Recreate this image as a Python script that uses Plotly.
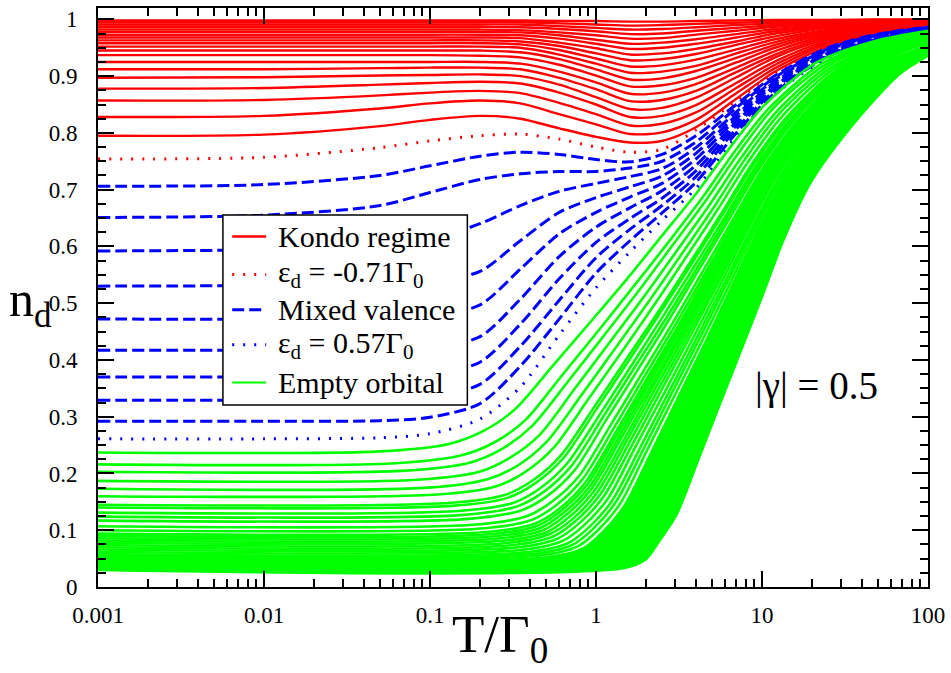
import plotly.graph_objects as go

# ---------------- data ----------------
T_GRID = [0.001, 0.01, 0.05, 0.1, 0.2, 0.35, 0.6, 1, 1.6, 2.5, 4, 7, 12, 25, 50, 100]

# Kondo regime (solid red), bottom -> top
KONDO = [
    [0.795, 0.797, 0.812, 0.823, 0.830, 0.825, 0.808, 0.793, 0.783, 0.786, 0.810, 0.860, 0.908, 0.953, 0.976, 0.987],
    [0.828, 0.830, 0.843, 0.852, 0.857, 0.852, 0.833, 0.815, 0.798, 0.801, 0.823, 0.870, 0.914, 0.957, 0.977, 0.988],
    [0.857, 0.858, 0.866, 0.871, 0.874, 0.870, 0.853, 0.833, 0.813, 0.816, 0.836, 0.879, 0.920, 0.960, 0.979, 0.989],
    [0.878, 0.879, 0.885, 0.888, 0.890, 0.887, 0.871, 0.850, 0.828, 0.830, 0.849, 0.888, 0.926, 0.963, 0.981, 0.990],
    [0.897, 0.898, 0.901, 0.902, 0.903, 0.900, 0.885, 0.863, 0.842, 0.844, 0.862, 0.898, 0.933, 0.966, 0.982, 0.991],
    [0.912, 0.912, 0.914, 0.915, 0.915, 0.912, 0.897, 0.877, 0.856, 0.858, 0.874, 0.907, 0.938, 0.969, 0.984, 0.992],
    [0.925, 0.925, 0.925, 0.925, 0.925, 0.922, 0.908, 0.889, 0.869, 0.871, 0.886, 0.915, 0.944, 0.972, 0.985, 0.992],
    [0.937, 0.937, 0.937, 0.937, 0.936, 0.933, 0.920, 0.901, 0.882, 0.884, 0.897, 0.924, 0.950, 0.975, 0.987, 0.993],
    [0.945, 0.945, 0.945, 0.945, 0.945, 0.942, 0.930, 0.912, 0.894, 0.896, 0.909, 0.932, 0.955, 0.977, 0.988, 0.994],
    [0.952, 0.952, 0.952, 0.952, 0.952, 0.950, 0.938, 0.922, 0.906, 0.908, 0.918, 0.940, 0.960, 0.980, 0.990, 0.995],
    [0.958, 0.958, 0.958, 0.958, 0.958, 0.956, 0.946, 0.931, 0.917, 0.919, 0.929, 0.947, 0.965, 0.982, 0.991, 0.995],
    [0.963, 0.963, 0.963, 0.963, 0.963, 0.961, 0.953, 0.940, 0.928, 0.930, 0.939, 0.955, 0.970, 0.985, 0.992, 0.996],
    [0.968, 0.968, 0.968, 0.968, 0.968, 0.967, 0.959, 0.949, 0.938, 0.940, 0.948, 0.961, 0.975, 0.987, 0.993, 0.997],
    [0.973, 0.973, 0.973, 0.973, 0.973, 0.972, 0.966, 0.957, 0.948, 0.950, 0.957, 0.968, 0.979, 0.989, 0.994, 0.997],
    [0.978, 0.978, 0.978, 0.978, 0.978, 0.977, 0.972, 0.964, 0.957, 0.959, 0.965, 0.974, 0.983, 0.991, 0.996, 0.998],
    [0.982, 0.982, 0.982, 0.982, 0.982, 0.981, 0.977, 0.972, 0.966, 0.967, 0.973, 0.980, 0.987, 0.993, 0.996, 0.998],
    [0.987, 0.987, 0.987, 0.987, 0.987, 0.986, 0.983, 0.979, 0.974, 0.975, 0.980, 0.985, 0.990, 0.995, 0.997, 0.999],
    [0.991, 0.991, 0.991, 0.991, 0.991, 0.991, 0.988, 0.985, 0.982, 0.983, 0.986, 0.990, 0.993, 0.997, 0.998, 0.999],
    [0.995, 0.995, 0.995, 0.995, 0.995, 0.995, 0.993, 0.991, 0.989, 0.990, 0.992, 0.994, 0.996, 0.998, 0.999, 0.999],
    [0.998, 0.998, 0.998, 0.998, 0.998, 0.998, 0.997, 0.997, 0.996, 0.996, 0.997, 0.998, 0.999, 0.999, 1.000, 1.000],
]

# eps_d = -0.71 Gamma_0 (dotted red)
EPS_M071 = [0.754, 0.757, 0.774, 0.786, 0.795, 0.798, 0.789, 0.775, 0.766, 0.771, 0.805, 0.856, 0.905, 0.952, 0.975, 0.987]

# Mixed valence (dashed blue), top -> bottom
MIXED = [
    [0.706, 0.709, 0.725, 0.742, 0.759, 0.766, 0.762, 0.753, 0.749, 0.762, 0.795, 0.850, 0.901, 0.950, 0.974, 0.986],
    [0.651, 0.655, 0.672, 0.695, 0.718, 0.728, 0.732, 0.732, 0.738, 0.750, 0.784, 0.844, 0.898, 0.948, 0.973, 0.986],
    [0.592, 0.594, 0.600, 0.612, 0.640, 0.672, 0.697, 0.711, 0.723, 0.737, 0.774, 0.837, 0.894, 0.946, 0.972, 0.985],
    [0.530, 0.531, 0.533, 0.537, 0.556, 0.610, 0.660, 0.686, 0.705, 0.724, 0.764, 0.831, 0.890, 0.944, 0.971, 0.984],
    [0.472, 0.472, 0.474, 0.477, 0.497, 0.560, 0.622, 0.660, 0.687, 0.711, 0.754, 0.825, 0.886, 0.942, 0.970, 0.984],
    [0.417, 0.417, 0.418, 0.421, 0.441, 0.507, 0.582, 0.634, 0.668, 0.698, 0.743, 0.819, 0.883, 0.941, 0.968, 0.983],
    [0.370, 0.370, 0.371, 0.375, 0.396, 0.463, 0.543, 0.607, 0.649, 0.685, 0.733, 0.813, 0.879, 0.939, 0.967, 0.983],
    [0.329, 0.329, 0.330, 0.335, 0.357, 0.424, 0.505, 0.580, 0.630, 0.672, 0.723, 0.807, 0.875, 0.937, 0.966, 0.982],
    [0.292, 0.292, 0.293, 0.299, 0.323, 0.389, 0.472, 0.553, 0.610, 0.659, 0.713, 0.800, 0.871, 0.935, 0.965, 0.981],
]

# eps_d = 0.57 Gamma_0 (dotted blue)
EPS_057 = [0.261, 0.261, 0.263, 0.270, 0.296, 0.352, 0.444, 0.527, 0.590, 0.646, 0.702, 0.794, 0.868, 0.933, 0.964, 0.981]

# Empty orbital (solid green), top -> bottom: temperatures and occupations per curve
EMPTY_T = [
    [0.001, 0.050, 0.130, 0.210, 0.325, 0.550, 0.92, 1.53, 2.50, 4.06, 6.30, 10.2, 21.3, 48.0, 100],
    [0.001, 0.062, 0.155, 0.245, 0.375, 0.625, 1.03, 1.69, 2.74, 4.38, 6.76, 11.0, 22.9, 50.9, 100],
    [0.001, 0.071, 0.173, 0.270, 0.410, 0.678, 1.11, 1.81, 2.89, 4.59, 7.08, 11.5, 24.0, 53.0, 100],
    [0.001, 0.084, 0.198, 0.304, 0.458, 0.748, 1.21, 1.95, 3.10, 4.88, 7.48, 12.2, 25.4, 55.5, 100],
    [0.001, 0.097, 0.222, 0.338, 0.505, 0.817, 1.31, 2.09, 3.29, 5.13, 7.83, 12.8, 26.6, 57.8, 100],
    [0.001, 0.111, 0.248, 0.372, 0.551, 0.885, 1.41, 2.23, 3.47, 5.38, 8.20, 13.5, 27.9, 60.1, 100],
    [0.001, 0.129, 0.281, 0.417, 0.611, 0.970, 1.53, 2.40, 3.71, 5.69, 8.63, 14.2, 29.4, 62.8, 100],
    [0.001, 0.136, 0.293, 0.432, 0.632, 1.000, 1.57, 2.45, 3.78, 5.79, 8.79, 14.5, 29.9, 63.8, 100],
    [0.001, 0.149, 0.316, 0.461, 0.671, 1.060, 1.65, 2.56, 3.93, 5.98, 9.06, 15.0, 30.8, 65.5, 100],
    [0.001, 0.160, 0.335, 0.486, 0.705, 1.100, 1.71, 2.65, 4.06, 6.15, 9.29, 15.3, 31.6, 66.8, 100],
    [0.001, 0.172, 0.355, 0.512, 0.740, 1.150, 1.78, 2.74, 4.17, 6.31, 9.51, 15.7, 32.4, 68.2, 100],
    [0.001, 0.191, 0.385, 0.552, 0.793, 1.230, 1.88, 2.88, 4.36, 6.55, 9.84, 16.3, 33.6, 70.3, 100],
    [0.001, 0.205, 0.408, 0.581, 0.830, 1.280, 1.95, 2.98, 4.49, 6.71, 10.1, 16.7, 34.4, 71.8, 100],
    [0.001, 0.218, 0.431, 0.608, 0.867, 1.330, 2.02, 3.07, 4.60, 6.87, 10.3, 17.1, 35.2, 73.1, 100],
    [0.001, 0.228, 0.445, 0.627, 0.889, 1.360, 2.07, 3.13, 4.69, 6.97, 10.4, 17.4, 35.6, 74.0, 100],
    [0.001, 0.238, 0.461, 0.646, 0.916, 1.40, 2.11, 3.19, 4.77, 7.08, 10.6, 17.6, 36.1, 75.7, 100],
    [0.001, 0.249, 0.479, 0.668, 0.946, 1.44, 2.17, 3.27, 4.86, 7.19, 10.7, 17.9, 36.7, 76.7, 100],
    [0.001, 0.263, 0.500, 0.695, 0.979, 1.49, 2.23, 3.35, 4.98, 7.33, 10.9, 18.3, 37.4, 78.0, 100],
    [0.001, 0.279, 0.524, 0.724, 1.02, 1.54, 2.30, 3.44, 5.09, 7.48, 11.1, 18.7, 38.1, 79.3, 100],
    [0.001, 0.296, 0.552, 0.759, 1.06, 1.60, 2.38, 3.55, 5.24, 7.66, 11.4, 19.1, 39.0, 80.8, 100],
    [0.001, 0.318, 0.585, 0.798, 1.11, 1.67, 2.47, 3.67, 5.38, 7.85, 11.7, 19.5, 39.9, 82.6, 100],
    [0.001, 0.347, 0.627, 0.849, 1.18, 1.75, 2.59, 3.82, 5.57, 8.09, 12.0, 20.1, 41.1, 84.5, 100],
    [0.001, 0.379, 0.675, 0.906, 1.25, 1.85, 2.72, 3.98, 5.79, 8.36, 12.4, 20.8, 42.4, 86.9, 100],
    [0.001, 0.410, 0.718, 0.957, 1.32, 1.94, 2.83, 4.13, 5.98, 8.59, 12.7, 21.4, 43.5, 100],
    [0.001, 0.448, 0.771, 1.02, 1.40, 2.04, 2.96, 4.31, 6.21, 8.87, 13.1, 22.1, 44.9, 100],
    [0.001, 0.495, 0.836, 1.10, 1.49, 2.17, 3.13, 4.52, 6.47, 9.18, 13.5, 22.9, 46.4, 100],
    [0.001, 0.553, 0.916, 1.19, 1.61, 2.32, 3.32, 4.76, 6.78, 9.57, 14.0, 23.8, 48.2, 100],
    [0.001, 0.627, 1.01, 1.30, 1.75, 2.50, 3.55, 5.05, 7.13, 10.0, 14.6, 24.8, 50.2, 100],
    [0.001, 0.689, 1.09, 1.39, 1.86, 2.64, 3.73, 5.28, 7.41, 10.4, 15.1, 25.7, 51.9, 100],
    [0.001, 0.764, 1.19, 1.50, 1.99, 2.82, 3.94, 5.55, 7.74, 10.7, 15.6, 26.7, 53.8, 100],
    [0.001, 0.859, 1.31, 1.63, 2.15, 3.02, 4.20, 5.86, 8.13, 11.2, 16.3, 27.8, 56.0, 100],
    [0.001, 0.977, 1.45, 1.79, 2.34, 3.27, 4.50, 6.22, 8.57, 11.7, 16.9, 29.1, 58.5, 100],
    [0.001, 1.13, 1.63, 1.99, 2.58, 3.56, 4.85, 6.67, 9.10, 12.3, 17.8, 30.6, 61.4, 100],
    [0.001, 1.45, 2.00, 2.38, 3.05, 4.13, 5.55, 7.50, 10.1, 13.5, 19.3, 33.4, 66.9, 100],
]
EMPTY_N = [
    [0.237, 0.239, 0.252, 0.275, 0.313, 0.390, 0.466, 0.542, 0.619, 0.695, 0.771, 0.847, 0.924, 0.962, 0.980],
    [0.216, 0.218, 0.232, 0.255, 0.294, 0.373, 0.451, 0.530, 0.608, 0.686, 0.765, 0.843, 0.922, 0.961, 0.978],
    [0.203, 0.205, 0.219, 0.243, 0.283, 0.362, 0.442, 0.522, 0.602, 0.681, 0.761, 0.841, 0.920, 0.960, 0.977],
    [0.187, 0.189, 0.203, 0.228, 0.268, 0.350, 0.431, 0.512, 0.594, 0.675, 0.756, 0.837, 0.919, 0.959, 0.975],
    [0.173, 0.175, 0.190, 0.214, 0.256, 0.338, 0.421, 0.504, 0.587, 0.669, 0.752, 0.835, 0.917, 0.959, 0.974],
    [0.160, 0.163, 0.177, 0.202, 0.244, 0.328, 0.412, 0.496, 0.580, 0.664, 0.748, 0.832, 0.916, 0.958, 0.972],
    [0.145, 0.148, 0.162, 0.188, 0.231, 0.316, 0.402, 0.487, 0.573, 0.658, 0.744, 0.829, 0.915, 0.957, 0.970],
    [0.140, 0.143, 0.157, 0.183, 0.226, 0.312, 0.398, 0.484, 0.570, 0.656, 0.742, 0.828, 0.914, 0.957, 0.970],
    [0.131, 0.134, 0.148, 0.174, 0.218, 0.305, 0.392, 0.479, 0.566, 0.652, 0.739, 0.826, 0.913, 0.957, 0.969],
    [0.124, 0.127, 0.142, 0.168, 0.212, 0.299, 0.387, 0.474, 0.562, 0.650, 0.737, 0.825, 0.912, 0.956, 0.968],
    [0.117, 0.120, 0.135, 0.161, 0.205, 0.294, 0.382, 0.470, 0.559, 0.647, 0.735, 0.823, 0.912, 0.956, 0.967],
    [0.107, 0.110, 0.125, 0.152, 0.196, 0.286, 0.375, 0.464, 0.554, 0.643, 0.732, 0.821, 0.911, 0.955, 0.966],
    [0.100, 0.103, 0.118, 0.145, 0.190, 0.280, 0.370, 0.460, 0.550, 0.640, 0.730, 0.820, 0.910, 0.955, 0.965],
    [0.094, 0.097, 0.112, 0.139, 0.185, 0.275, 0.366, 0.456, 0.547, 0.638, 0.728, 0.819, 0.909, 0.955, 0.964],
    [0.090, 0.093, 0.108, 0.136, 0.181, 0.272, 0.363, 0.454, 0.545, 0.636, 0.727, 0.818, 0.909, 0.955, 0.964],
    [0.086, 0.089, 0.104, 0.132, 0.177, 0.269, 0.360, 0.452, 0.543, 0.634, 0.726, 0.817, 0.909, 0.954, 0.963],
    [0.082, 0.085, 0.100, 0.128, 0.174, 0.266, 0.357, 0.449, 0.541, 0.633, 0.725, 0.816, 0.908, 0.954, 0.962],
    [0.078, 0.081, 0.096, 0.124, 0.170, 0.262, 0.355, 0.447, 0.539, 0.631, 0.723, 0.816, 0.908, 0.954, 0.961],
    [0.074, 0.077, 0.093, 0.120, 0.167, 0.259, 0.352, 0.444, 0.537, 0.630, 0.722, 0.815, 0.907, 0.954, 0.960],
    [0.070, 0.073, 0.089, 0.117, 0.163, 0.256, 0.349, 0.442, 0.535, 0.628, 0.721, 0.814, 0.907, 0.954, 0.959],
    [0.066, 0.069, 0.085, 0.113, 0.159, 0.253, 0.346, 0.440, 0.533, 0.626, 0.720, 0.813, 0.907, 0.953, 0.958],
    [0.062, 0.065, 0.081, 0.109, 0.156, 0.250, 0.343, 0.437, 0.531, 0.625, 0.719, 0.812, 0.906, 0.953, 0.957],
    [0.058, 0.061, 0.077, 0.105, 0.152, 0.246, 0.341, 0.435, 0.529, 0.623, 0.717, 0.812, 0.906, 0.953, 0.956],
    [0.055, 0.058, 0.074, 0.102, 0.150, 0.244, 0.339, 0.433, 0.528, 0.622, 0.717, 0.811, 0.906, 0.955],
    [0.052, 0.055, 0.071, 0.099, 0.147, 0.242, 0.336, 0.431, 0.526, 0.621, 0.716, 0.810, 0.905, 0.953],
    [0.049, 0.052, 0.068, 0.097, 0.144, 0.239, 0.334, 0.429, 0.525, 0.620, 0.715, 0.810, 0.905, 0.951],
    [0.046, 0.049, 0.065, 0.094, 0.141, 0.237, 0.332, 0.428, 0.523, 0.618, 0.714, 0.809, 0.905, 0.950],
    [0.043, 0.046, 0.062, 0.091, 0.139, 0.234, 0.330, 0.426, 0.522, 0.617, 0.713, 0.809, 0.904, 0.948],
    [0.041, 0.044, 0.060, 0.089, 0.137, 0.233, 0.329, 0.425, 0.521, 0.616, 0.712, 0.808, 0.904, 0.947],
    [0.039, 0.042, 0.058, 0.087, 0.135, 0.231, 0.327, 0.423, 0.520, 0.616, 0.712, 0.808, 0.904, 0.945],
    [0.037, 0.040, 0.056, 0.085, 0.133, 0.230, 0.326, 0.422, 0.519, 0.615, 0.711, 0.807, 0.904, 0.943],
    [0.035, 0.038, 0.054, 0.083, 0.132, 0.228, 0.325, 0.421, 0.518, 0.614, 0.711, 0.807, 0.904, 0.942],
    [0.033, 0.036, 0.052, 0.081, 0.130, 0.226, 0.323, 0.420, 0.517, 0.613, 0.710, 0.807, 0.903, 0.940],
    [0.030, 0.033, 0.049, 0.079, 0.127, 0.224, 0.321, 0.418, 0.515, 0.612, 0.709, 0.806, 0.903, 0.936],
]
# curves at or below this low-T occupation merge into a solid band in the original
DENSE_BAND_MAX_N0 = 0.049

X_TICKS = [0.001, 0.01, 0.1, 1, 10, 100]
X_TICK_TEXT = ["0.001", "0.01", "0.1", "1", "10", "100"]

LEGEND_LABELS = ["Kondo regime", "ε<sub>d</sub> = -0.71Γ<sub>0</sub>", "Mixed valence",
                 "ε<sub>d</sub> = 0.57Γ<sub>0</sub>", "Empty orbital"]

# ---------------- figure ----------------
RED, BLUE, GREEN = "#ff0000", "#0000ff", "#00ff00"
FONT = "Liberation Serif"
DOT = "2px,9px"
DASH = "12px,5px"

fig = go.Figure()


def spline(color, width, dash="solid"):
    return dict(color=color, width=width, dash=dash, shape="spline", smoothing=0.8)


for n in KONDO:
    fig.add_trace(go.Scatter(x=T_GRID, y=n, mode="lines", line=spline(RED, 2.4),
                             name=LEGEND_LABELS[0], hoverinfo="skip"))
fig.add_trace(go.Scatter(x=T_GRID, y=EPS_M071, mode="lines", line=spline(RED, 3, DOT),
                         name=LEGEND_LABELS[1], hoverinfo="skip"))
for n in MIXED:
    fig.add_trace(go.Scatter(x=T_GRID, y=n, mode="lines", line=spline(BLUE, 3, DASH),
                             name=LEGEND_LABELS[2], hoverinfo="skip"))
fig.add_trace(go.Scatter(x=T_GRID, y=EPS_057, mode="lines", line=spline(BLUE, 3, DOT),
                         name=LEGEND_LABELS[3], hoverinfo="skip"))

# green curves drawn bottom -> top; the dense lowest ones are filled to each other
green = list(zip(EMPTY_T, EMPTY_N))[::-1]
for k, (t, n) in enumerate(green):
    dense = k > 0 and n[0] <= DENSE_BAND_MAX_N0
    fig.add_trace(go.Scatter(x=t, y=n, mode="lines", line=spline(GREEN, 2.6),
                             fill="tonexty" if dense else "none", fillcolor=GREEN,
                             name=LEGEND_LABELS[4], hoverinfo="skip"))

minor_x = [m * 10 ** e for e in range(-3, 2) for m in range(2, 10)]

# legend box drawn as in the original (paper coordinates)
LEG_X0, LEG_X1, LEG_Y0, LEG_Y1 = 0.1505, 0.4450, 0.3145, 0.6427
LEG_ROWS = [0.6053, 0.5399, 0.4788, 0.4186, 0.3532]
LEG_STYLES = [(RED, 2.4, "solid"), (RED, 3, DOT), (BLUE, 3, DASH), (BLUE, 3, DOT), (GREEN, 2.2, "solid")]

shapes = [dict(type="rect", xref="paper", yref="paper", x0=LEG_X0, x1=LEG_X1, y0=LEG_Y0, y1=LEG_Y1,
               line=dict(color="black", width=1.5), fillcolor="white", layer="above")]
annotations = []
for yrow, (col, w, d), lab in zip(LEG_ROWS, LEG_STYLES, LEGEND_LABELS):
    shapes.append(dict(type="line", xref="paper", yref="paper", x0=0.1617, x1=0.2026, y0=yrow, y1=yrow,
                       line=dict(color=col, width=w, dash=d), layer="above"))
    annotations.append(dict(text=lab, xref="paper", yref="paper", x=0.2147, y=yrow,
                            xanchor="left", yanchor="middle", showarrow=False,
                            font=dict(family=FONT, size=30, color="black")))

annotations += [
    dict(text="T/Γ<sub>0</sub>", xref="paper", yref="paper", x=0.484, y=-0.088,
         xanchor="center", yanchor="middle", showarrow=False,
         font=dict(family=FONT, size=53, color="black")),
    dict(text="n<sub>d</sub>", xref="paper", yref="paper", x=-0.0815, y=0.49,
         xanchor="center", yanchor="middle", showarrow=False,
         font=dict(family=FONT, size=50, color="black")),
    dict(text="|γ| = 0.5", xref="paper", yref="paper", x=0.866, y=0.347,
         xanchor="center", yanchor="middle", showarrow=False,
         font=dict(family=FONT, size=39, color="black")),
]

fig.update_layout(
    width=951, height=673,
    margin=dict(l=98, r=23, t=6, b=86),
    paper_bgcolor="white", plot_bgcolor="white",
    font=dict(family=FONT, color="black"),
    showlegend=False,
    xaxis=dict(type="log", range=[-3, 2], tickmode="array", tickvals=X_TICKS,
               ticktext=X_TICK_TEXT, ticks="inside", ticklen=16, tickwidth=1.5,
               tickcolor="black", showline=True, linecolor="black", linewidth=2,
               mirror="allticks", showgrid=False, zeroline=False,
               tickfont=dict(family=FONT, size=23), ticklabelstandoff=6,
               minor=dict(tickmode="array", tickvals=minor_x, ticks="inside", ticklen=8,
                          tickwidth=1.5, tickcolor="black", showgrid=False)),
    yaxis=dict(range=[0, 1.02], tick0=0, dtick=0.1, ticks="inside", ticklen=16,
               tickwidth=1.5, tickcolor="black", showline=True, linecolor="black",
               linewidth=2, mirror="allticks", showgrid=False, zeroline=False,
               tickfont=dict(family=FONT, size=23), ticklabelstandoff=14,
               minor=dict(dtick=0.025, ticks="inside", ticklen=8, tickwidth=1.5,
                          tickcolor="black", showgrid=False)),
    shapes=shapes,
    annotations=annotations,
)

fig.write_html("out.html")
